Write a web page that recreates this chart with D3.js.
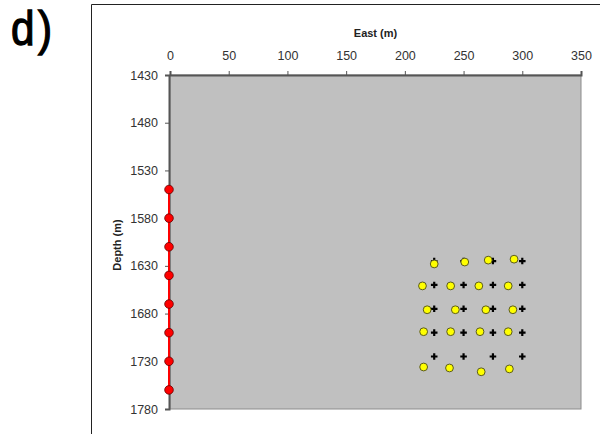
<!DOCTYPE html>
<html>
<head>
<meta charset="utf-8">
<script src="https://cdn.jsdelivr.net/npm/d3@7"></script>
<style>
  html, body { margin: 0; padding: 0; background: #fff; }
  svg { display: block; font-family: Arial, "Liberation Sans", sans-serif; }
</style>
</head>
<body>
<svg id="chart" width="600" height="434"></svg>
<script>
// Axis ticks
const eastTicks = [0, 50, 100, 150, 200, 250, 300, 350];
const depthTicks = [1430, 1480, 1530, 1580, 1630, 1680, 1730, 1780];

// Receiver positions along the vertical well (East = 0)
const wellEast = [0, 0, 0, 0, 0, 0, 0, 0];
const wellDepth = [1550, 1580, 1610, 1640, 1670, 1700, 1730, 1760];

// Grid of source positions (black crosses)
const gridEast = [225, 250, 275, 300, 225, 250, 275, 300, 225, 250, 275, 300,
                  225, 250, 275, 300, 225, 250, 275, 300];
const gridDepth = [1625, 1625, 1625, 1625, 1650, 1650, 1650, 1650, 1675, 1675, 1675, 1675,
                   1700, 1700, 1700, 1700, 1725, 1725, 1725, 1725];

// Located events (yellow)
const locEast = [225, 251, 271, 293, 215, 239, 263, 288, 219, 243, 269, 292,
                 216, 239, 264, 288, 216, 238, 265, 289];
const locDepth = [1628, 1626, 1624, 1623, 1651, 1651, 1651, 1651, 1676, 1676, 1676, 1676,
                  1699, 1699, 1699, 1699, 1736, 1737, 1741, 1738];

const svg = d3.select("#chart");

// Outer frame (left and top edges)
svg.append("path")
  .attr("d", "M91.5,434 L91.5,4.5 L600,4.5")
  .attr("fill", "none").attr("stroke", "#222").attr("stroke-width", 1);

// Panel label
svg.append("text")
  .attr("transform", "translate(11,45) scale(0.88,1)")
  .attr("font-size", 48).attr("fill", "#000")
  .attr("stroke", "#000").attr("stroke-width", 1.3)
  .style("letter-spacing", "4px")
  .text("d)");

const plot = { left: 170, right: 581, top: 75, bottom: 409 };

const x = d3.scaleLinear().domain([0, 350]).range([plot.left, plot.right]);
const y = d3.scaleLinear().domain([1430, 1780]).range([plot.top, plot.bottom]);

// Plot area
svg.append("rect")
  .attr("x", plot.left).attr("y", plot.top)
  .attr("width", plot.right - plot.left).attr("height", plot.bottom - plot.top)
  .attr("fill", "#c0c0c0")
  .attr("stroke", "#8c8c8c").attr("stroke-width", 1);

// Top axis
const xAxis = svg.append("g")
  .attr("transform", `translate(0,${plot.top})`)
  .call(d3.axisTop(x).tickValues(eastTicks).tickFormat(d3.format("d"))
    .tickSize(4).tickSizeOuter(4).tickPadding(11));
// Left axis
const yAxis = svg.append("g")
  .attr("transform", `translate(${plot.left - 1},0)`)
  .call(d3.axisLeft(y).tickValues(depthTicks).tickFormat(d3.format("d"))
    .tickSize(4).tickSizeOuter(4).tickPadding(7));

[xAxis, yAxis].forEach(g => {
  g.select(".domain").attr("stroke", "#555").attr("stroke-width", 2);
  g.selectAll(".tick line").attr("stroke", "#555").attr("stroke-width", 1);
  g.selectAll(".tick text")
    .attr("fill", "#333").attr("font-size", 12.5)
    .attr("font-family", "Arial, 'Liberation Sans', sans-serif");
});

// Axis titles
svg.append("text")
  .attr("x", (plot.left + plot.right) / 2).attr("y", 37)
  .attr("text-anchor", "middle")
  .attr("font-size", 11).attr("font-weight", "bold").attr("fill", "#222")
  .text("East (m)");

svg.append("text")
  .attr("transform", `translate(121,${(plot.top + plot.bottom) / 2 + 3}) rotate(-90)`)
  .attr("text-anchor", "middle")
  .attr("font-size", 11).attr("font-weight", "bold").attr("fill", "#222")
  .text("Depth (m)");

// Well trace
const wellPts = wellEast.map((e, i) => [e, wellDepth[i]]);
svg.append("path")
  .datum(wellPts)
  .attr("d", d3.line().x(d => x(d[0]) - 1).y(d => y(d[1])))
  .attr("fill", "none").attr("stroke", "#ff0000").attr("stroke-width", 2);

svg.append("g").selectAll("circle")
  .data(wellPts).join("circle")
  .attr("cx", d => x(d[0]) - 1).attr("cy", d => y(d[1]))
  .attr("r", 4.3)
  .attr("fill", "#ff0000").attr("stroke", "#600").attr("stroke-width", 0.8);

// Source grid crosses
const crossPath = d3.symbol().type(d3.symbolCross).size(24)();
svg.append("g").selectAll("path")
  .data(gridEast.map((e, i) => [e, gridDepth[i]])).join("path")
  .attr("transform", d => `translate(${x(d[0])},${y(d[1])})`)
  .attr("d", crossPath)
  .attr("fill", "#000");

// Located events
svg.append("g").selectAll("circle")
  .data(locEast.map((e, i) => [e, locDepth[i]])).join("circle")
  .attr("cx", d => x(d[0])).attr("cy", d => y(d[1]))
  .attr("r", 3.9)
  .attr("fill", "#ffff00").attr("stroke", "#5a5a20").attr("stroke-width", 1);
</script>
</body>
</html>
